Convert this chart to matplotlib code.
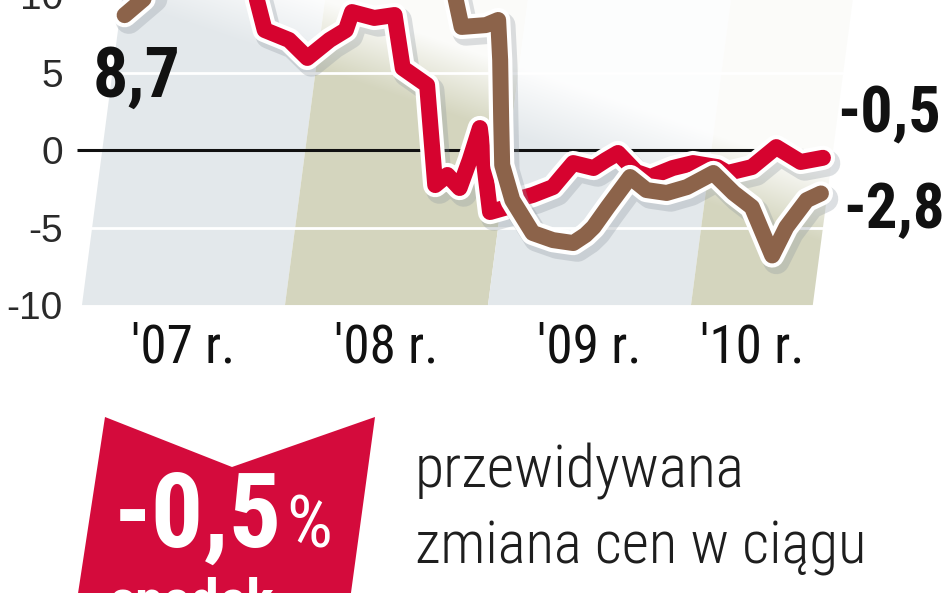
import numpy as np
import matplotlib.pyplot as plt
import matplotlib.patheffects as pe
from matplotlib import font_manager as fm
from matplotlib.patches import Polygon

# dane (lata dziesiętne, wartości w %)
red_t = [2007.21, 2007.43, 2007.68, 2007.84, 2007.90, 2008.02, 2008.11, 2008.22,
         2008.30, 2008.33, 2008.44, 2008.54, 2008.58, 2008.70, 2008.74, 2008.80,
         2008.86, 2008.91, 2008.96, 2009.01, 2009.08, 2009.13, 2009.22, 2009.32,
         2009.37, 2009.42, 2009.52, 2009.58, 2009.64, 2009.73, 2009.80, 2009.91,
         2010.01, 2010.13, 2010.18, 2010.30, 2010.42, 2010.54, 2010.65]
red_v = [11.8, 12.6, 12.3, 10.8, 7.74, 7.10, 5.94, 7.10,
         7.74, 8.90, 8.52, 8.71, 5.29, 4.19, -2.26, -1.61,
         -2.45, -0.65, 1.42, -4.00, -3.74, -3.23, -2.90, -2.39,
         -1.61, -0.84, -1.16, -0.65, -0.19, -1.42, -1.74, -1.16,
         -0.84, -1.10, -1.48, -1.10, 0.19, -0.77, -0.5]

brown_t = [2007.21, 2007.38, 2007.58, 2007.88, 2008.27, 2008.67, 2008.82, 2008.87,
           2008.99, 2009.05, 2009.06, 2009.065, 2009.07, 2009.12, 2009.22, 2009.32,
           2009.42, 2009.48, 2009.52, 2009.59, 2009.70, 2009.78, 2009.88, 2009.98,
           2010.11, 2010.21, 2010.30, 2010.40, 2010.47, 2010.57, 2010.64]
brown_v = [8.7, 10.6, 12.0, 12.8, 13.0, 12.4, 11.0, 7.94,
           8.06, 8.39, 5.81, 1.94, -0.97, -3.23, -5.35, -5.81,
           -6.00, -5.48, -4.97, -3.68, -1.74, -2.58, -2.77, -2.39,
           -1.48, -2.77, -3.68, -6.80, -4.97, -3.23, -2.8]

year_labels = ["'07 r.", "'08 r.", "'09 r.", "'10 r."]
year_edges = [2007.0, 2008.0, 2009.0, 2010.0, 2010.6]
y_ticks = [-10, -5, 0, 5, 10]
brown_first_lbl = '8,7'
red_last_lbl = '-0,5'
brown_last_lbl = '-2,8'

RED = '#d6032f'
BROWN = '#8c634a'
LIGHT = '#e3e8eb'
OLIVE = '#d4d5be'

# szukamy zwężonego kroju, jeśli jest zainstalowany
fonts = fm.fontManager.ttflist
names = {f.name for f in fonts}
cond_family, cond_stretch = 'Liberation Sans', 'normal'
for cand in ['Liberation Sans Narrow', 'Roboto Condensed', 'Open Sans Condensed',
             'Noto Sans Condensed', 'DejaVu Sans Condensed']:
    if cand in names:
        cond_family = cand
        break
else:
    for f in fonts:
        if f.stretch in ('condensed', 'semi-condensed') and f.name in (
                'DejaVu Sans', 'Noto Sans', 'Open Sans', 'Roboto', 'Liberation Sans'):
            cond_family, cond_stretch = f.name, f.stretch
            break
narrow = dict(family=[cond_family, 'DejaVu Sans'], fontstretch=cond_stretch)

fig = plt.figure(figsize=(9.48, 5.93), dpi=100)

# warstwa dekoracyjna w pikselach
deco = fig.add_axes([0, 0, 1, 1], zorder=-1)
deco.set_xlim(0, 948)
deco.set_ylim(593, 0)
deco.axis('off')

ax = fig.add_axes([0.0717, 0.4806, 0.9283, 0.5869])
ax.patch.set_visible(False)

# pasy lat (lekko pochylone)
slant = 0.01
y_bot, y_top = -10, 12
for i in range(len(year_edges) - 1):
    a, b = year_edges[i], year_edges[i + 1]
    s = slant * (y_top - y_bot)
    ax.add_patch(Polygon([(a, y_bot), (b, y_bot), (b + s, y_top), (a + s, y_top)],
                         closed=True, color=LIGHT if i % 2 == 0 else OLIVE,
                         lw=0, zorder=1))

# rozjaśnienie ku górze
T, V = np.meshgrid(np.linspace(2006.9, 2011.2, 300), np.linspace(-10.2, 12.3, 200))
v0 = 5 - 4.5 * (T - 2008.2)
rgba = np.ones(T.shape + (4,))
rgba[..., 3] = np.clip((V - v0) / 5, 0, 0.92)
ax.imshow(rgba, extent=[2006.9, 2011.2, -10.2, 12.3], origin='lower',
          aspect='auto', zorder=1.5, interpolation='bilinear')

for g in [-5, 5, 10]:
    off = slant * (g - y_bot)
    ax.plot([year_edges[0] + off, year_edges[-1] + off], [g, g],
            color='white', lw=2, zorder=2)

ax.plot([2006.975, 2010.55], [0, 0], color='#111111', lw=2.2, zorder=3,
        solid_capstyle='butt')


def effects():
    return [pe.Stroke(offset=(3, -4), linewidth=19, foreground='#8e979f', alpha=0.3),
            pe.Stroke(linewidth=17.5, foreground='white'),
            pe.Normal()]


ax.plot(red_t, red_v, color=RED, lw=11.5, zorder=4, solid_joinstyle='round',
        solid_capstyle='round', path_effects=effects())
ax.plot(brown_t, brown_v, color=BROWN, lw=11.5, zorder=5, solid_joinstyle='round',
        solid_capstyle='round', path_effects=effects())

lbl = dict(fontsize=43, fontweight='bold', color='#111111',
           textcoords='offset pixels', va='baseline', zorder=6,
           annotation_clip=False, **narrow)
fits = []
t = ax.annotate(brown_first_lbl, xy=(brown_t[0], brown_v[0]), xytext=(12, -82),
                ha='center', **lbl)
fits.append((t, 88))
t = ax.annotate(red_last_lbl, xy=(red_t[-1], red_v[-1]), xytext=(14, 25),
                ha='left', **lbl)
fits.append((t, 104))
t = ax.annotate(brown_last_lbl, xy=(brown_t[-1], brown_v[-1]), xytext=(22, -35),
                ha='left', **lbl)
fits.append((t, 102))

ax.set_xlim(2006.931, 2011.266)
ax.set_ylim(-10.19, 12.26)
ax.set_yticks(y_ticks)
ax.set_yticklabels([str(v) for v in y_ticks], family=['Liberation Sans', 'DejaVu Sans'],
                   fontsize=28, color='#2a2a2a')
ax.set_xticks([])
ax.tick_params(axis='y', length=0, pad=3.6)
for sp in ax.spines.values():
    sp.set_visible(False)

mids = [(year_edges[i] + year_edges[i + 1]) / 2 for i in range(len(year_labels))]
for m, s in zip(mids, year_labels):
    t = ax.annotate(s, xy=(m, -10.19), xytext=(0, -54), textcoords='offset pixels',
                    ha='center', va='baseline', fontsize=38, color='#111111',
                    annotation_clip=False, **narrow)
    fits.append((t, 104))

# dolna część: prognoza
deco.add_patch(Polygon([(105, 417), (232, 467), (375, 417), (350, 600), (77, 600)],
                       closed=True, color='#d40b3c', lw=0))
big = deco.text(114, 547, '-0,5', color='white', fontsize=62, fontweight='bold',
                ha='left', va='baseline', **narrow)
fits.append((big, 168))
pct = deco.text(290, 547, '%', color='white', fontsize=46, ha='left', va='baseline', **narrow)
fits.append((pct, 46))
t = deco.text(192, 620, 'spadek', color='white', fontsize=42, fontweight='bold',
              ha='center', va='baseline', **narrow)
fits.append((t, 165))
t = deco.text(415, 488, 'przewidywana', color='#1e1e1e', fontsize=45, fontweight='light',
              ha='left', va='baseline', **narrow)
fits.append((t, 330))
t = deco.text(415, 563, 'zmiana cen w ciągu', color='#1e1e1e', fontsize=45,
              fontweight='light', ha='left', va='baseline', **narrow)
fits.append((t, 452))

# dopasowanie szerokości napisów
fig.canvas.draw()
r = fig.canvas.get_renderer()
for t, w in fits:
    bb = t.get_window_extent(r)
    t.set_fontsize(t.get_fontsize() * w / bb.width)
fig.canvas.draw()
pct.set_x(big.get_window_extent(r).x1 + 4)

fig.savefig('out.png', dpi=100)
